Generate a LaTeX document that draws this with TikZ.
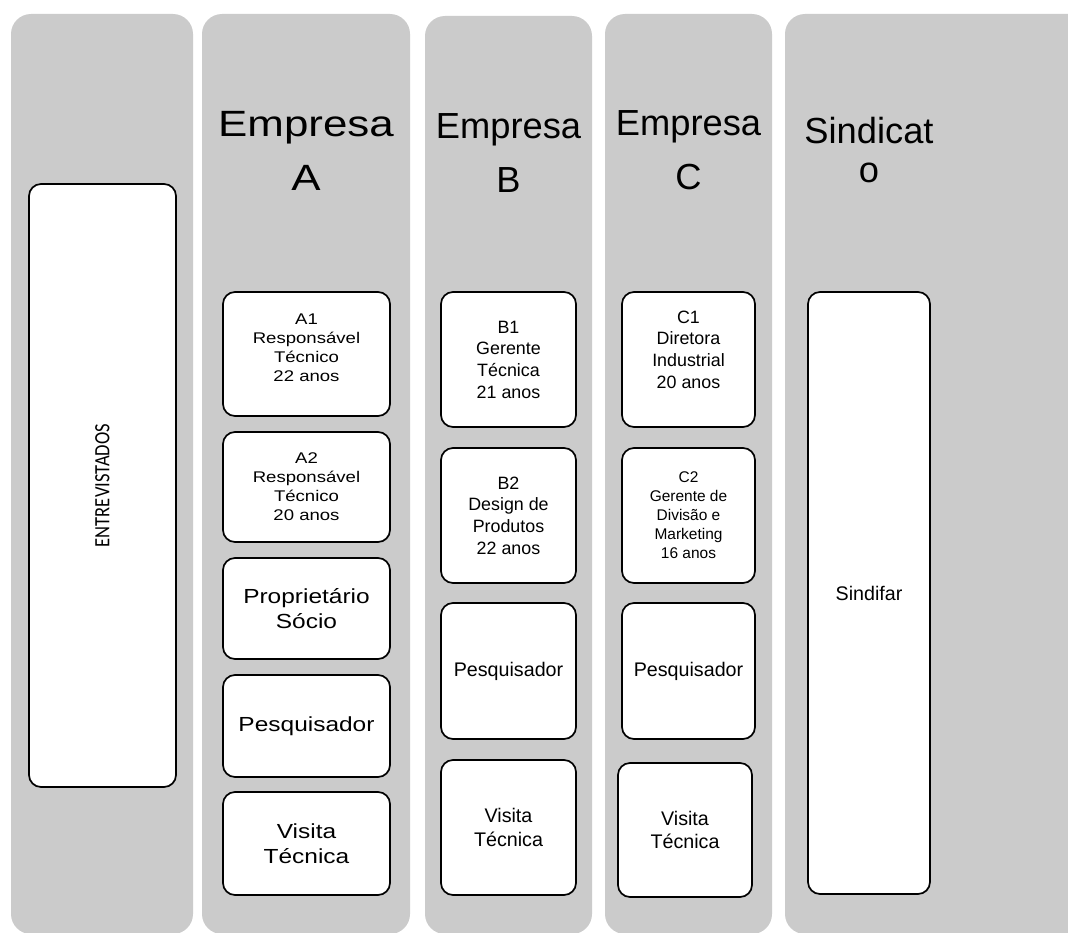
\documentclass[tikz,border=0pt]{standalone}
\usepackage{fontspec}
\setmainfont{Liberation Sans}
\newfontfamily\widefont{Liberation Sans}[FakeStretch=1.2]
\newfontfamily\calibfont{Carlito}[FakeStretch=0.85]
\definecolor{lanegray}{RGB}{203,203,203}
\newcommand{\pxu}{0.025cm}
\tikzset{
	cardbox/.style 2 args={draw,fill=white,line width=1.2pt,rounded corners=0.3cm,align=center,inner sep=0pt,minimum width=#1*\pxu,minimum height=#2*\pxu}
}

\begin{document}
\begin{tikzpicture}[x=0.025cm,y=-0.025cm,
	lane/.style={fill=lanegray,rounded corners=0.5cm},
	headA/.style={align=center,font=\widefont\fontsize{26}{39}\selectfont},
	head/.style={align=center,font=\fontsize{25.8}{38.5}\selectfont},
	smallA/.style={font=\widefont\fontsize{11}{13.5}\selectfont},
	bigA/.style={font=\widefont\fontsize{14.5}{17.5}\selectfont},
	midtxt/.style={font=\fontsize{12.7}{15.4}\selectfont},
	smalltxt/.style={font=\fontsize{11}{13.5}\selectfont},
	bigtxt/.style={font=\fontsize{14}{17}\selectfont}]
	\useasboundingbox (0,0) rectangle (1068,933);
	\fill[lane] (11,14) rectangle (193,934);
	\fill[lane] (202,14) rectangle (410,934);
	\fill[lane] (425,16) rectangle (592,934);
	\fill[lane] (605,14) rectangle (772,934);
	\fill[lane] (785,14) rectangle (1100,934);

	\node[headA] (empA) at (306,151) {Empresa\\A};
	\node[head] (empB) at (508.5,153) {Empresa\\B};
	\node[head] (empC) at (688.5,150.5) {Empresa\\C};
	\node[head,font=\fontsize{25.8}{27.7}\selectfont] (sind) at (869,150) {Sindicat\\o};

	\node[cardbox={147}{603}] (entrev) at (102.5,485.5) {\rotatebox{90}{\calibfont\fontsize{15.5}{18}\selectfont ENTREVISTADOS}};

	\node[cardbox={167}{124},smallA,text depth=0.33cm] (a1) at (306.5,354) {A1\\Responsável\\Técnico\\22 anos};
	\node[cardbox={167}{110},smallA] (a2) at (306.5,487) {A2\\Responsável\\Técnico\\20 anos};
	\node[cardbox={167}{101},bigA] (aprop) at (306.5,608.5) {Proprietário\\Sócio};
	\node[cardbox={167}{102},bigA] (apesq) at (306.5,726) {Pesquisador};
	\node[cardbox={167}{103},bigA] (avis) at (306.5,843.5) {Visita\\Técnica};

	\node[cardbox={135}{135},midtxt] (b1) at (508.5,359.5) {B1\\Gerente\\Técnica\\21 anos};
	\node[cardbox={135}{135},midtxt] (b2) at (508.5,515.5) {B2\\Design de\\Produtos\\22 anos};
	\node[cardbox={135}{136},bigtxt] (bpesq) at (508.5,671) {Pesquisador};
	\node[cardbox={135}{135},bigtxt] (bvis) at (508.5,827.5) {Visita\\Técnica};

	\node[cardbox={133}{135},midtxt,text depth=0.5cm] (c1) at (688.5,359.5) {C1\\Diretora\\Industrial\\20 anos};
	\node[cardbox={133}{135},smalltxt] (c2) at (688.5,515.5) {C2\\Gerente de\\Divisão e\\Marketing\\16 anos};
	\node[cardbox={133}{136},bigtxt] (cpesq) at (688.5,671) {Pesquisador};
	\node[cardbox={134}{134},bigtxt] (cvis) at (685,830) {Visita\\Técnica};

	\node[cardbox={122}{602},bigtxt] (sindifar) at (869,593) {Sindifar};
\end{tikzpicture}
\end{document}
